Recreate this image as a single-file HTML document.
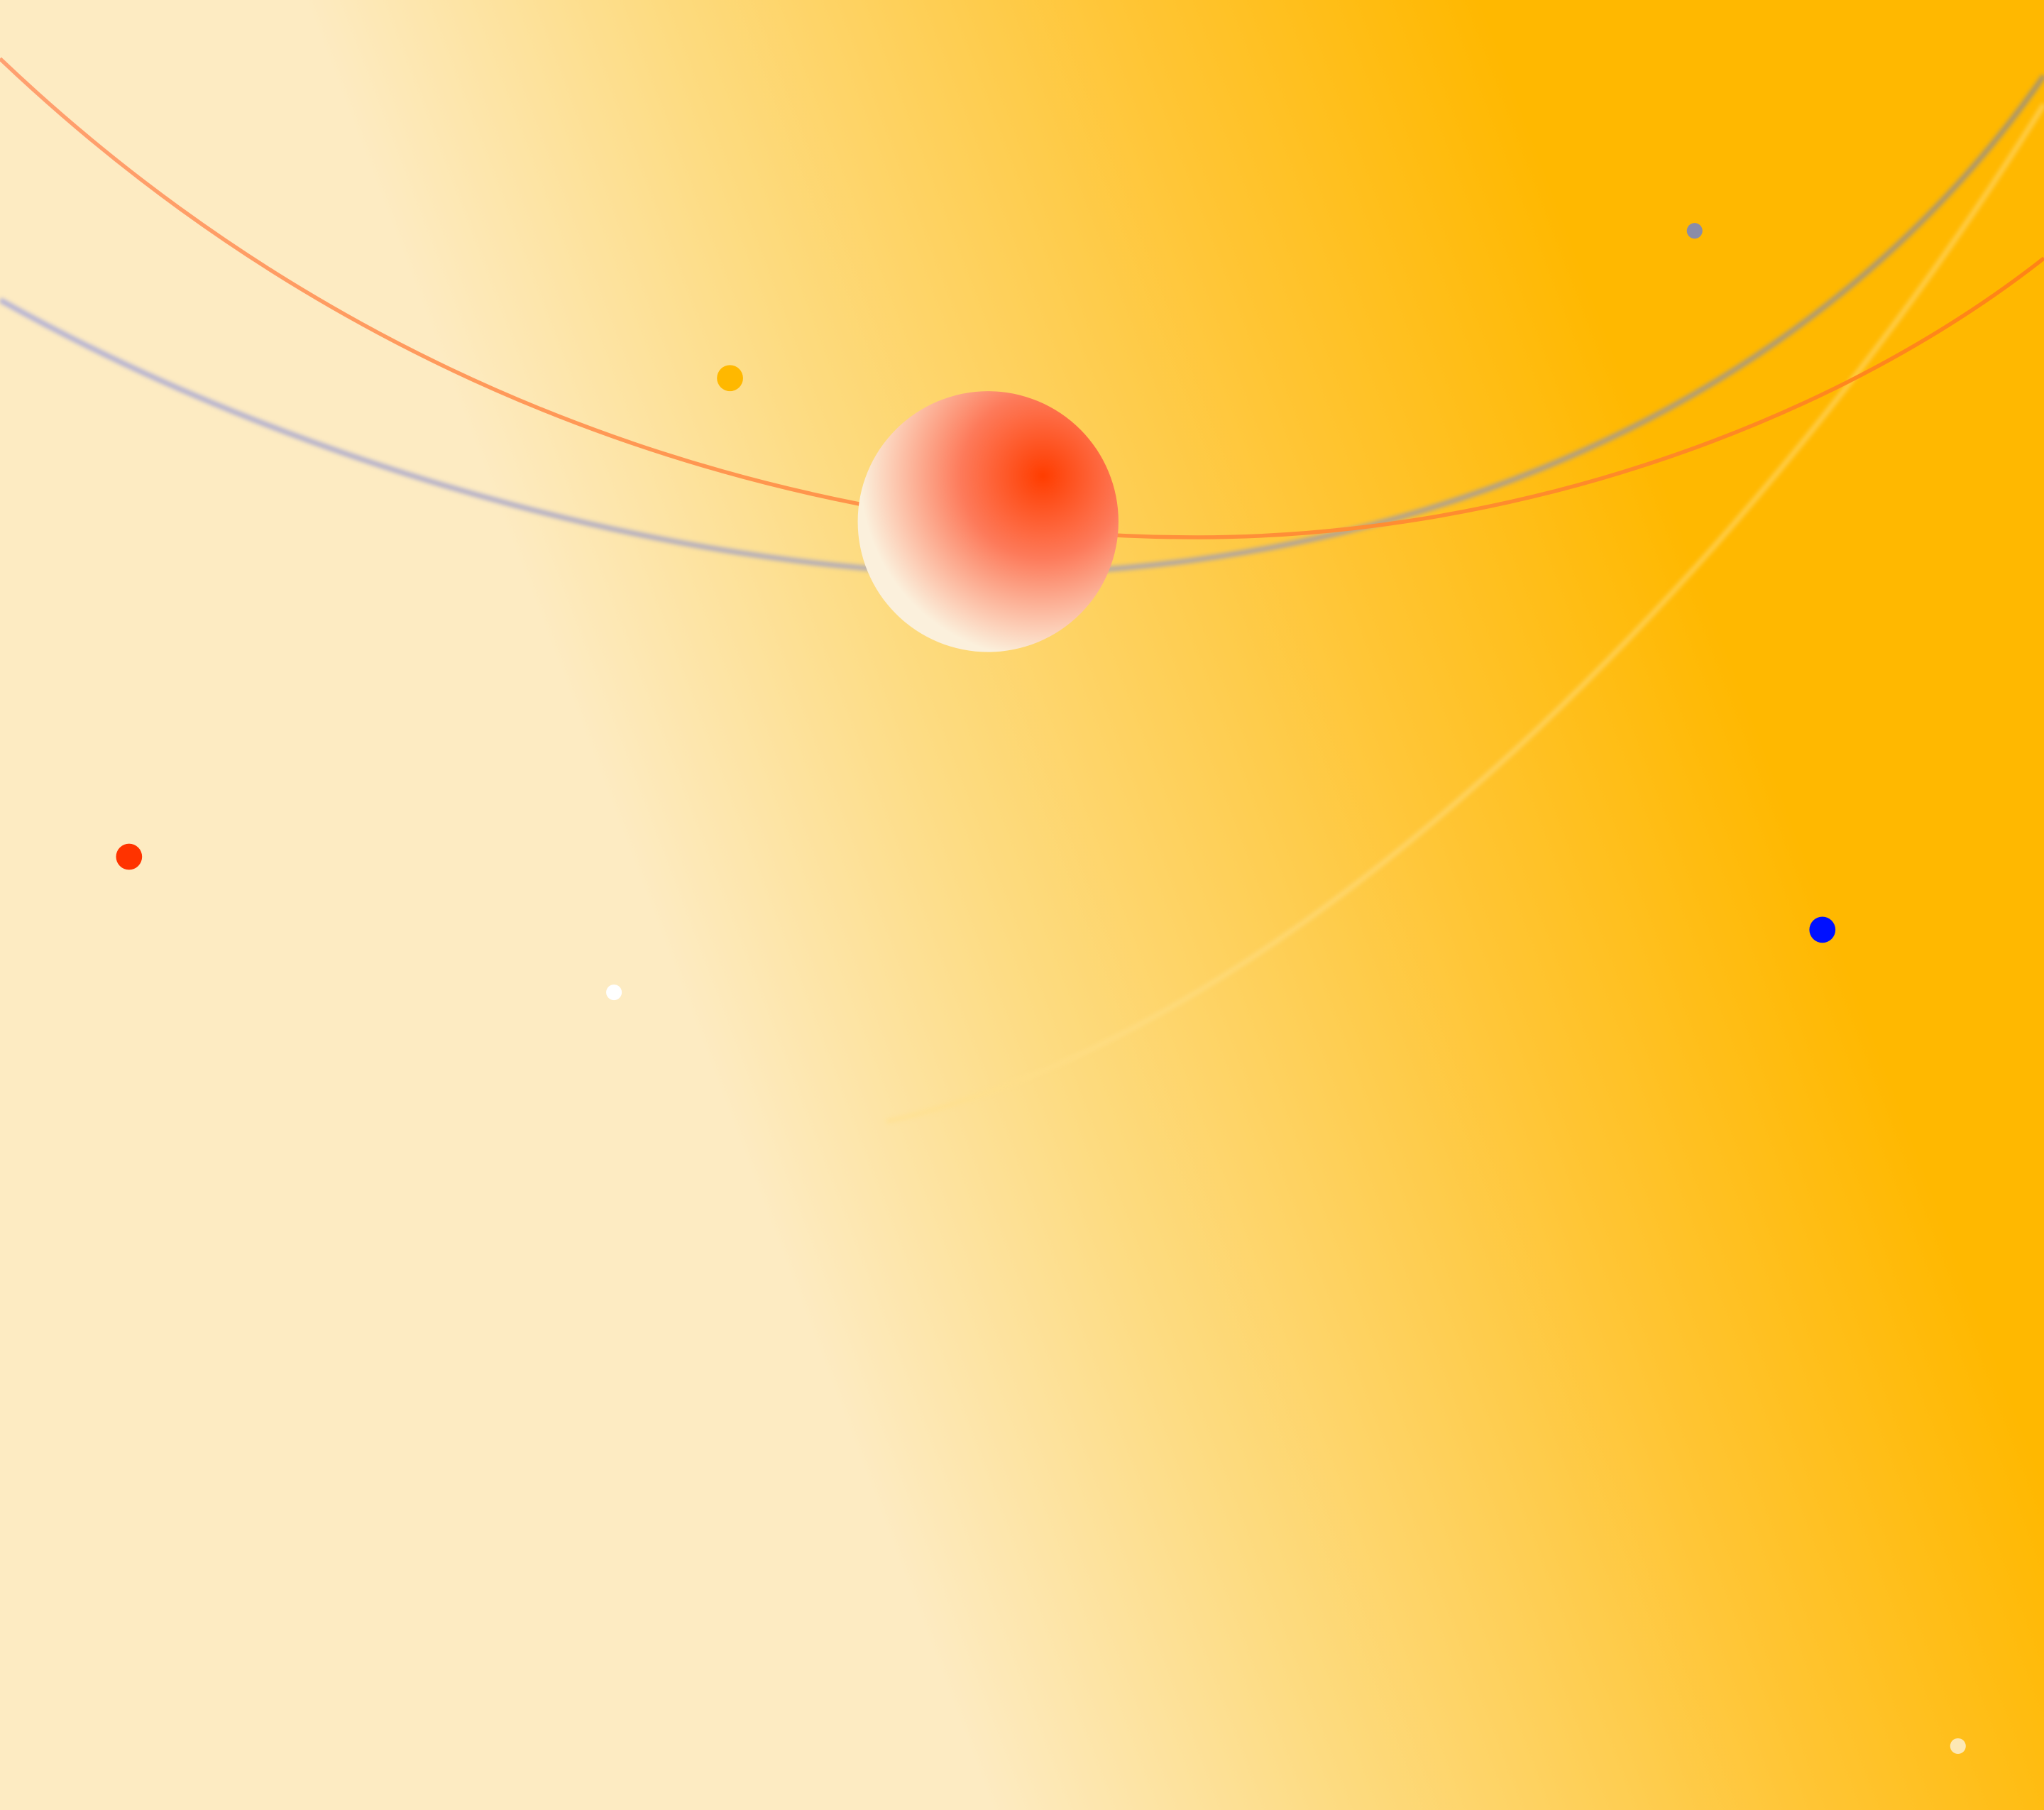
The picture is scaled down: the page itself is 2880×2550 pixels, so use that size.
<!DOCTYPE html>
<html>
<head>
<meta charset="utf-8">
<style>
html,body{margin:0;padding:0;width:2880px;height:2550px;overflow:hidden;}
svg{display:block;}
</style>
</head>
<body>
<svg width="2880" height="2550" viewBox="0 0 1568 1388" preserveAspectRatio="none" xmlns="http://www.w3.org/2000/svg">
  <defs>
    <linearGradient id="bg" gradientUnits="userSpaceOnUse" x1="560" y1="860" x2="1350" y2="560">
      <stop offset="0" stop-color="#fdebc2"/>
      <stop offset="0.3" stop-color="#fddb80"/>
      <stop offset="0.7" stop-color="#ffc534"/>
      <stop offset="1" stop-color="#ffb800"/>
    </linearGradient>
    <radialGradient id="sphere" gradientUnits="userSpaceOnUse" cx="800" cy="365" r="140">
      <stop offset="0" stop-color="#ff3d00"/>
      <stop offset="0.45" stop-color="#fd7a5a"/>
      <stop offset="1" stop-color="#fbf0dc"/>
    </radialGradient>
    <linearGradient id="orb1" x1="0" y1="0" x2="1" y2="0">
      <stop offset="0" stop-color="#ffa070"/>
      <stop offset="1" stop-color="#ff8415"/>
    </linearGradient>
    <linearGradient id="orb2" x1="0" y1="0" x2="1" y2="0">
      <stop offset="0" stop-color="#a8a8d8"/>
      <stop offset="0.5" stop-color="#a8a4b8"/>
      <stop offset="1" stop-color="#9a9080"/>
    </linearGradient>
    <filter id="blur" x="-10%" y="-10%" width="120%" height="120%">
      <feGaussianBlur stdDeviation="1.6"/>
    </filter>
  </defs>
  <rect x="0" y="0" width="1568" height="1388" fill="url(#bg)"/>
  <path d="M1568,80 C1350,430 1000,790 680,860" fill="none" stroke="#ffe08a" stroke-width="4" opacity="0.5" filter="url(#blur)"/>
  <path d="M0,230 C250,370 550,440 760,440 C1050,440 1380,330 1568,58" fill="none" stroke="url(#orb2)" stroke-width="4" opacity="0.85" filter="url(#blur)"/>
  <path d="M0,45 C300,330 650,410 910,412 C1150,414 1400,330 1568,198" fill="none" stroke="url(#orb1)" stroke-width="3"/>
  <circle cx="758" cy="400" r="100" fill="url(#sphere)"/>
  <circle cx="560" cy="290" r="10" fill="#ffb800"/>
  <circle cx="1300" cy="177" r="6" fill="#8a8ca8"/>
  <circle cx="99" cy="657" r="10" fill="#ff3300"/>
  <circle cx="471" cy="761" r="6" fill="#ffffff"/>
  <circle cx="1398" cy="713" r="10" fill="#0010ff"/>
  <circle cx="1502" cy="1339" r="6" fill="#fde8b4"/>
</svg>
</body>
</html>
